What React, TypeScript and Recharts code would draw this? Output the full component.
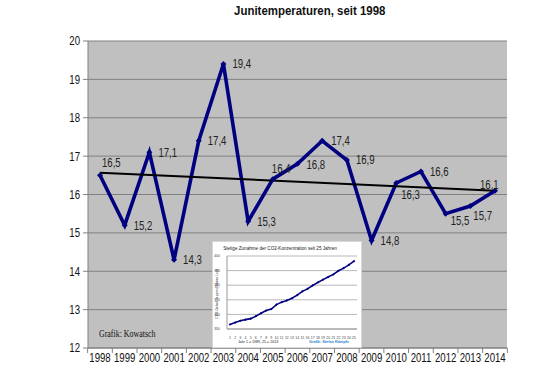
import { LineChart, Line, XAxis, YAxis, CartesianGrid, ReferenceLine } from "recharts"

const years = ["1998", "1999", "2000", "2001", "2002", "2003", "2004", "2005", "2006", "2007", "2008", "2009", "2010", "2011", "2012", "2013", "2014"]
const juneTemps = [16.5, 15.2, 17.1, 14.3, 17.4, 19.4, 15.3, 16.4, 16.8, 17.4, 16.9, 14.8, 16.3, 16.6, 15.5, 15.7, 16.1]
const tempTicks = [12, 13, 14, 15, 16, 17, 18, 19, 20]
const trendStart = 16.57
const trendEnd = 16.1

const co2Index = [1, 2, 3, 4, 5, 6, 7, 8, 9, 10, 11, 12, 13, 14, 15, 16, 17, 18, 19, 20, 21, 22, 23, 24, 25]
const co2Ppm = [353.1, 354.4, 355.6, 356.4, 357.1, 358.8, 360.8, 362.6, 363.7, 366.7, 368.4, 369.6, 371.1, 373.2, 375.8, 377.5, 379.8, 381.9, 383.8, 385.6, 387.4, 389.9, 391.7, 393.9, 396.5]
const co2Ticks = [350, 360, 370, 380, 390, 400]

const tempData = years.map((year, i) => ({ year, temp: juneTemps[i] }))
const co2Data = co2Index.map((n, i) => ({ n, ppm: co2Ppm[i] }))

const FONT = "'Liberation Sans', Arial, sans-serif"
const NAVY = "#000080"
const STEP = 24.75

// where each value label sits next to its point (default: right of it)
const labelShift: Record<number, [number, number]> = {
  0: [2, -13],
  7: [-1, -11],
  8: [9, 1],
  12: [5, 12],
  14: [5, 7],
  15: [3, 10],
  16: [-15, -6],
}

function YearTick({ x, y, payload, index }: any) {
  return (
    <g>
      <line x1={x - STEP / 2} x2={x - STEP / 2} y1={y} y2={y + 5} stroke="#808080" />
      {index === years.length - 1 && (
        <line x1={x + STEP / 2} x2={x + STEP / 2} y1={y} y2={y + 5} stroke="#808080" />
      )}
      <text
        transform={`translate(${x},${y + 14}) scale(0.8,1)`}
        textAnchor="middle"
        fontFamily={FONT}
        fontSize={12}
        fill="#111"
      >
        {payload.value}
      </text>
    </g>
  )
}

function TempTick({ x, y, payload }: any) {
  return (
    <text
      transform={`translate(${x},${y}) scale(0.8,1)`}
      textAnchor="end"
      dominantBaseline="central"
      fontFamily={FONT}
      fontSize={12}
      fill="#111"
    >
      {payload.value}
    </text>
  )
}

function ValueLabel({ x, y, value, index }: any) {
  const [dx, dy] = labelShift[index] ?? [9, 0]
  return (
    <text
      transform={`translate(${x + dx},${y + dy}) scale(0.8,1)`}
      dominantBaseline="central"
      fontFamily={FONT}
      fontSize={12}
      fill="#222"
    >
      {String(value).replace(".", ",")}
    </text>
  )
}

function Diamond({ cx, cy, index, size }: any) {
  const s = size ?? 3
  return (
    <path
      key={index}
      d={`M${cx},${cy - s}L${cx + s},${cy}L${cx},${cy + s}L${cx - s},${cy}Z`}
      fill={NAVY}
    />
  )
}

function Co2Inset() {
  return (
    <div
      style={{
        position: "absolute",
        left: 212,
        top: 241,
        width: 150,
        height: 107,
        background: "#fff",
        border: "1px solid #d8d8d8",
        boxSizing: "border-box",
      }}
    >
      <LineChart width={148} height={105} data={co2Data} margin={{ top: 14, right: 4, bottom: 12, left: 0 }}>
        <CartesianGrid vertical={false} stroke="#b8b8b8" />
        <XAxis
          dataKey="n"
          interval={0}
          tick={{ fontSize: 3.5, fill: "#444", fontFamily: FONT }}
          tickLine={false}
          axisLine={{ stroke: "#999" }}
          tickMargin={2}
          height={6}
          padding={{ left: 3, right: 3 }}
        />
        <YAxis
          domain={[350, 400]}
          ticks={co2Ticks}
          interval={0}
          tick={{ fontSize: 3.5, fill: "#444", fontFamily: FONT }}
          tickLine={false}
          axisLine={{ stroke: "#999" }}
          tickMargin={1}
          width={14}
        />
        <Line
          dataKey="ppm"
          stroke={NAVY}
          strokeWidth={1.6}
          dot={(p: any) => <Diamond {...p} size={1.3} key={p.index} />}
          isAnimationActive={false}
        />
      </LineChart>
      <svg width={148} height={105} style={{ position: "absolute", left: 0, top: 0, pointerEvents: "none" }}>
        <text x={67} y={8} textAnchor="middle" fontFamily={FONT} fontSize={4.6} fill="#222">
          Stetige Zunahme der CO2-Konzentration seit 25 Jahren
        </text>
        <text transform="translate(5,52) rotate(-90)" textAnchor="middle" fontFamily={FONT} fontSize={3.4} fill="#333">
          CO2-Gehalt in ppm (Mauna Loa)
        </text>
        <text x={25} y={101} fontFamily={FONT} fontSize={3.6} fill="#222">
          Jahr 1 = 1989, 25 = 2013
        </text>
        <text x={96} y={101} fontFamily={FONT} fontSize={3.8} fill="#2a7fd0" fontWeight="bold">
          Grafik: Stefan Kämpfe
        </text>
      </svg>
    </div>
  )
}

export default function App() {
  return (
    <div style={{ position: "absolute", left: 0, top: 0, width: 540, height: 372, background: "#fff", overflow: "hidden" }}>
      <div
        style={{
          position: "absolute",
          left: 0,
          top: 3,
          width: 704,
          textAlign: "center",
          fontFamily: FONT,
          fontWeight: "bold",
          fontSize: 13,
          color: "#111",
          transform: "scaleX(0.88)",
          transformOrigin: "0 0",
          whiteSpace: "nowrap",
        }}
      >
        Junitemperaturen, seit 1998
      </div>
      <LineChart width={540} height={372} data={tempData} margin={{ top: 41, right: 33, bottom: 0, left: 0 }}>
        <CartesianGrid vertical={false} stroke="#808080" fill="#c0c0c0" fillOpacity={1} />
        <XAxis
          dataKey="year"
          interval={0}
          tick={<YearTick />}
          tickLine={false}
          tickSize={0}
          tickMargin={0}
          axisLine={{ stroke: "#808080" }}
          height={24}
          padding={{ left: 12, right: 12 }}
        />
        <XAxis xAxisId="top" dataKey="year" orientation="top" height={0} tick={false} tickLine={false} axisLine={{ stroke: "#808080" }} padding={{ left: 12, right: 12 }} />
        <YAxis
          domain={[12, 20]}
          ticks={tempTicks}
          interval={0}
          tick={<TempTick />}
          tickLine={{ stroke: "#808080" }}
          tickSize={5}
          tickMargin={3}
          axisLine={{ stroke: "#808080" }}
          width={88}
        />
        <YAxis yAxisId="right" orientation="right" domain={[12, 20]} width={0} tick={false} tickLine={false} axisLine={{ stroke: "#808080" }} />
        <Line
          dataKey="temp"
          stroke={NAVY}
          strokeWidth={3.6}
          strokeLinejoin="miter"
          dot={(p: any) => <Diamond {...p} key={p.index} />}
          label={(p: any) => <ValueLabel {...p} key={p.index} />}
          isAnimationActive={false}
        />
        <ReferenceLine
          segment={[
            { x: "1998", y: trendStart },
            { x: "2014", y: trendEnd },
          ]}
          stroke="#000"
          strokeWidth={2}
        />
      </LineChart>
      <div
        style={{
          position: "absolute",
          left: 99,
          top: 327,
          fontFamily: "'Liberation Serif', 'Times New Roman', serif",
          fontSize: 11,
          color: "#111",
          transform: "scaleX(0.72)",
          transformOrigin: "0 0",
          whiteSpace: "nowrap",
        }}
      >
        Grafik: Kowatsch
      </div>
      <Co2Inset />
    </div>
  )
}
